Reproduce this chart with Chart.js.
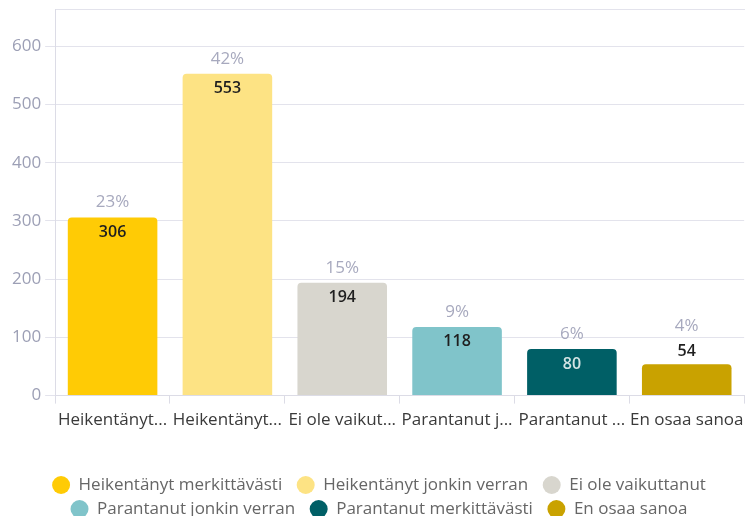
<!DOCTYPE html>
<html>
<head>
<meta charset="utf-8">
<script src="https://cdn.jsdelivr.net/npm/chart.js@4"></script>
<style>
  html, body { margin: 0; padding: 0; background: #fff; overflow: hidden; }
  #wrap { width: 750px; height: 528px; position: relative; }
</style>
</head>
<body>
<div id="wrap"><canvas id="chart"></canvas></div>
<script>
// =============================
// DATA
// =============================
const categories = [
  "Heikentänyt merkittävästi",
  "Heikentänyt jonkin verran",
  "Ei ole vaikuttanut",
  "Parantanut jonkin verran",
  "Parantanut merkittävästi",
  "En osaa sanoa"
];
const tickLabels = [
  "Heikentänyt...",
  "Heikentänyt...",
  "Ei ole vaikut...",
  "Parantanut j...",
  "Parantanut ...",
  "En osaa sanoa"
];
const counts = [306, 553, 194, 118, 80, 54];
const percents = ["23%", "42%", "15%", "9%", "6%", "4%"];
const yTicks = [0, 100, 200, 300, 400, 500, 600];

const barColors = ["#FFCB05", "#FDE384", "#D8D6CE", "#80C4CA", "#005F66", "#C9A200"];
const valueColors = ["#1f1f1f", "#1f1f1f", "#1f1f1f", "#1f1f1f", "#d3e4e4", "#1f1f1f"];

const FONT = "'Open Sans', 'Noto Sans', sans-serif";

// last item of each legend row gets no trailing gap
const rowEnds = [2, 5];

// =============================
// LABELS ON BARS
// =============================
const barLabels = {
  id: "barLabels",
  afterDatasetsDraw(chart) {
    const { ctx } = chart;
    const meta = chart.getDatasetMeta(0);
    ctx.save();
    ctx.textAlign = "center";
    ctx.textBaseline = "middle";
    meta.data.forEach((bar, i) => {
      const inside = bar.base - bar.y > 38;
      const valueY = inside ? bar.y + 15 : bar.y - 13;
      const pctY = inside ? bar.y - 15 : bar.y - 38;

      ctx.font = "600 16px " + FONT;
      ctx.fillStyle = valueColors[i];
      ctx.fillText(String(counts[i]), bar.x, valueY);

      ctx.font = "400 17px " + FONT;
      ctx.fillStyle = "#A7A9BE";
      ctx.fillText(percents[i], bar.x, pctY);
    });
    ctx.restore();
  }
};

// =============================
// CHART
// =============================
new Chart(document.getElementById("chart"), {
  type: "bar",
  data: {
    labels: tickLabels,
    datasets: [{
      data: counts,
      backgroundColor: barColors,
      borderRadius: { topLeft: 4, topRight: 4 },
      borderSkipped: "bottom",
      barPercentage: 0.78,
      categoryPercentage: 1
    }]
  },
  options: {
    responsive: true,
    maintainAspectRatio: false,
    animation: false,
    layout: { padding: { top: 0, left: 8, right: 0, bottom: 0 } },
    plugins: {
      tooltip: { enabled: false },
      legend: {
        position: "bottom",
        title: {
          display: true,
          text: " ",
          font: { size: 10 },
          padding: { top: 0, bottom: 22 }
        },
        labels: {
          font: { family: FONT, size: 17 },
          color: "#3a3a3a",
          boxWidth: 18,
          boxHeight: 18,
          useBorderRadius: true,
          borderRadius: 9,
          padding: 6,
          generateLabels: () => categories.map((name, i) => ({
            text: rowEnds.includes(i) ? name : name + "\u2002",
            fillStyle: barColors[i],
            strokeStyle: barColors[i],
            lineWidth: 0,
            borderRadius: 9,
            index: i
          }))
        }
      }
    },
    scales: {
      x: {
        grid: {
          drawOnChartArea: false,
          tickLength: 8,
          color: "#DCDCE6"
        },
        border: { color: "#DCDCE6" },
        ticks: {
          autoSkip: false,
          maxRotation: 0,
          padding: 6,
          color: "#3a3a3a",
          font: { family: FONT, size: 17 }
        }
      },
      xTop: {
        position: "top",
        grid: { display: false, drawTicks: false },
        ticks: { display: false },
        border: { color: "#E3E3EC" }
      },
      y: {
        min: 0,
        max: 664,
        afterBuildTicks: (axis) => { axis.ticks = yTicks.map(v => ({ value: v })); },
        grid: { color: "#E3E3EC", tickLength: 10 },
        border: { color: "#DCDCE6" },
        ticks: {
          padding: 4,
          color: "#9C9FB5",
          font: { family: FONT, size: 17, lineHeight: 0.6 }
        }
      }
    }
  },
  plugins: [barLabels]
});
</script>
</body>
</html>
